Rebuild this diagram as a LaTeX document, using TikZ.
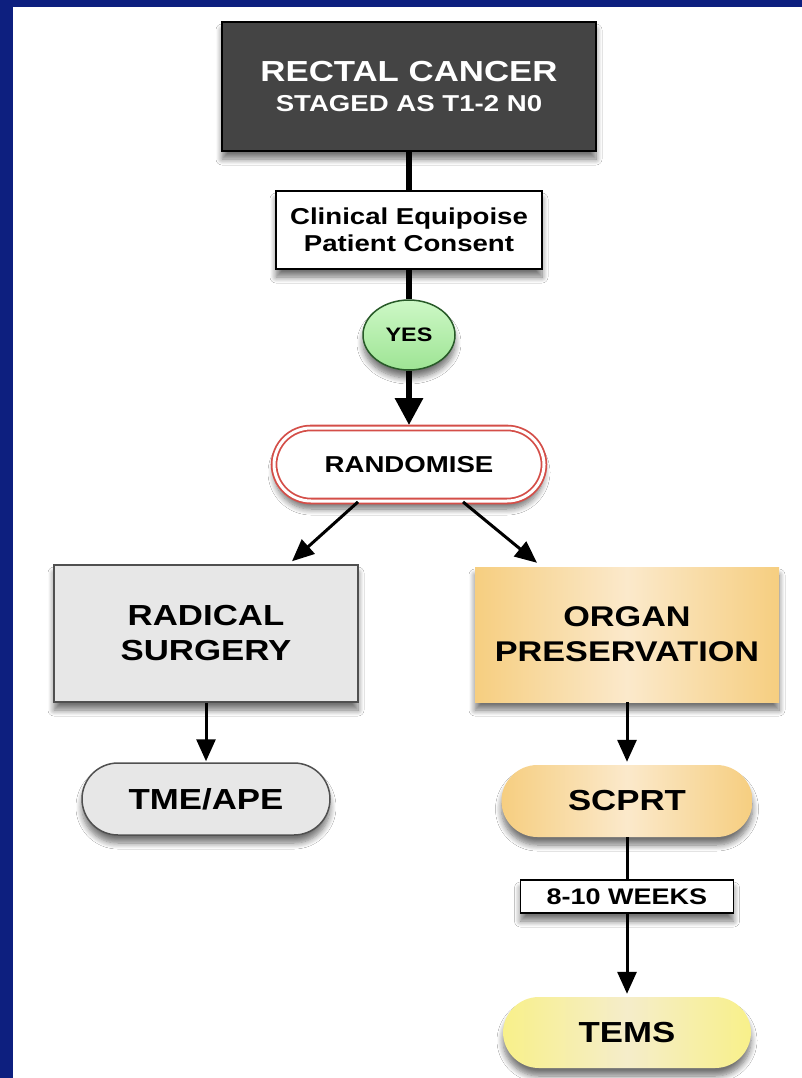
\documentclass[tikz,border=0pt]{standalone}
\usepackage{fontspec}
\newfontfamily\hv{Liberation Sans}[FakeStretch=1.2]
\usetikzlibrary{arrows.meta,shapes.geometric,shadows.blur}
\definecolor{navy}{RGB}{13,31,127}
\definecolor{darkbox}{RGB}{68,68,68}
\definecolor{greenA}{RGB}{205,248,198}
\definecolor{greenB}{RGB}{158,228,148}
\definecolor{greenD}{RGB}{40,90,40}
\definecolor{redL}{RGB}{212,78,72}
\definecolor{grayF}{RGB}{231,231,231}
\definecolor{grayD}{RGB}{80,80,80}
\definecolor{orA}{RGB}{246,206,128}
\definecolor{orB}{RGB}{251,233,203}
\definecolor{yeA}{RGB}{248,240,138}
\definecolor{yeB}{RGB}{245,237,202}
\tikzset{
  shad/.style={blur shadow={shadow xshift=0pt,shadow yshift=-8pt,shadow blur radius=6pt,shadow blur steps=8,shadow opacity=55}},
  box/.style={rectangle, inner sep=0pt, align=center, shad},
  pill/.style={rectangle, rounded corners=36pt, inner sep=0pt, align=center, shad, minimum height=72pt},
  thick6/.style={line width=6pt},
  thin3/.style={line width=3pt},
  bigtip/.style={-{Triangle[width=27pt,length=27pt]}},
  smalltip/.style={-{Triangle[width=19pt,length=22pt]}},
  fbig/.style={font={\hv\bfseries\fontsize{29}{35}\selectfont}},
  fmid/.style={font={\hv\bfseries\fontsize{23}{27}\selectfont}}
}
\begin{document}
\begin{tikzpicture}[x=1pt,y=-1pt]
\useasboundingbox (0,0) rectangle (802,1078);
\fill[navy] (0,0) rectangle (802,1078);
\fill[white] (13,7) rectangle (802,1078);

\node[box, fill=darkbox, draw=black, line width=2pt, text=white, minimum width=374pt, minimum height=129pt, font={\hv\bfseries\fontsize{29}{30}\selectfont}] (rc) at (409,86.5) {RECTAL CANCER\\{\fontsize{23}{26}\selectfont STAGED AS T1-2 N0}};

\node[box, fill=white, draw=black, line width=1.5pt, minimum width=266pt, minimum height=78pt, fmid] (cons) at (409,230) {Clinical Equipoise\\Patient Consent};

\node[ellipse, inner sep=0pt, shad, top color=greenA, bottom color=greenB, draw=greenD, line width=1.5pt, minimum width=92pt, minimum height=70pt, font={\hv\bfseries\fontsize{19.5}{22}\selectfont}] (yes) at (409,335) {YES};

\node[rectangle, rounded corners=37pt, inner sep=0pt, shad, fill=white, draw=redL, double=white, double distance=3pt, line width=1.8pt, minimum width=270pt, minimum height=73pt, font={\hv\bfseries\fontsize{23}{27}\selectfont}] (rand) at (409,464.5) {RANDOMISE};

\node[box, fill=grayF, draw=grayD, line width=1.5pt, minimum width=304pt, minimum height=137pt, fbig] (rad) at (206,633.5) {RADICAL\\SURGERY};

\node[box, left color=orA, right color=orA, middle color=orB, minimum width=304pt, minimum height=135pt, font={\hv\bfseries\fontsize{28.5}{35}\selectfont}] (organ) at (627,634.5) {ORGAN\\PRESERVATION};

\node[pill, fill=grayF, draw=grayD, line width=1.5pt, minimum width=248pt, fbig] (tme) at (206,799) {TME/APE};

\node[pill, left color=orA, right color=orA, middle color=orB, minimum width=251pt, fbig] (scprt) at (627,801) {SCPRT};

\node[box, fill=white, draw=black, line width=1.5pt, minimum width=213pt, minimum height=33pt, font={\hv\bfseries\fontsize{22.5}{25}\selectfont}] (weeks) at (627,896.5) {8-10 WEEKS};

\node[pill, left color=yeA, right color=yeA, middle color=yeB, minimum width=248pt, minimum height=71pt, fbig] (tems) at (627,1032.5) {TEMS};

\draw[thick6] (rc.south) -- (cons.north);
\draw[thick6] (cons.south) -- (yes.north);
\draw[thick6, bigtip] (yes.south) -- ([yshift=2pt]rand.north);
\draw[thin3, smalltip] ([xshift=-51pt]rand.south) -- ([xshift=86pt,yshift=3pt]rad.north);
\draw[thin3, smalltip] ([xshift=54pt]rand.south) -- ([xshift=-90pt,yshift=4pt]organ.north);
\draw[thin3, smalltip] (rad.south) -- ([yshift=1pt]tme.north);
\draw[thin3, smalltip] (organ.south) -- ([yshift=3pt]scprt.north);
\draw[thin3] (scprt.south) -- (weeks.north);
\draw[thin3, smalltip] (weeks.south) -- ([yshift=3pt]tems.north);
\end{tikzpicture}
\end{document}
